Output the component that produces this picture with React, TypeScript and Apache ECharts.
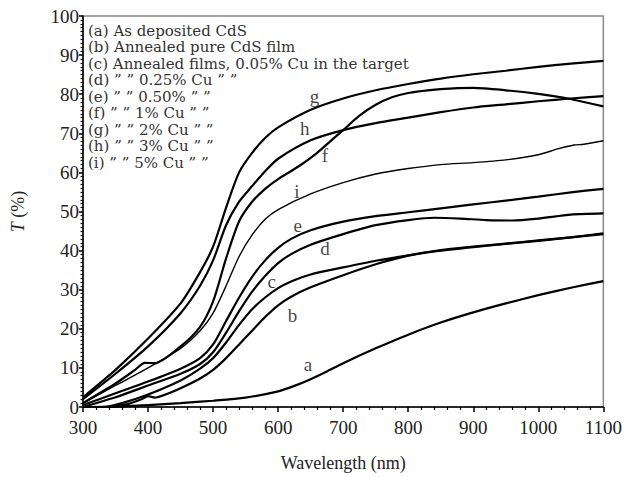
import React, { useEffect, useRef } from "react";
import * as echarts from "echarts";

const curveA = [[300,0],[350,0.1],[400,0.5],[450,1.0],[500,1.6],[550,2.4],[600,4.0],[625,5.4],[650,7.1],[675,9.1],[700,11.2],[750,15],[800,18.5],[850,21.6],[900,24.2],[950,26.5],[1000,28.6],[1050,30.5],[1100,32.2]];
const curveB = [[300,0],[340,0],[370,0.8],[390,2],[400,2.8],[410,2.4],[430,3.4],[450,4.8],[480,7.3],[500,9.5],[520,12.5],[540,16],[560,19.5],[580,23],[600,26],[620,28.2],[650,30.6],[700,33.7],[750,36.5],[800,38.7],[850,40.1],[900,41],[950,41.8],[1000,42.6],[1050,43.4],[1100,44.2]];
const curveC = [[300,0],[330,0],[360,1],[400,3.2],[450,6.8],[480,9.8],[500,12.5],[520,16.5],[540,21],[560,25],[580,28],[600,30.4],[620,32.1],[650,33.9],[700,35.7],[750,37.4],[800,38.8],[850,40],[900,40.9],[950,41.7],[1000,42.5],[1050,43.4],[1100,44.4]];
const curveD = [[300,0],[350,2.5],[400,5.5],[450,8.5],[480,11],[500,14],[520,19],[540,24.5],[560,29.5],[580,33.5],[600,36.8],[620,39.1],[650,41.5],[700,44.2],[750,46.5],[800,47.8],[840,48.4],[880,48.2],[920,47.8],[960,47.7],[1000,48.2],[1050,49.2],[1100,49.5]];
const curveE = [[300,0.5],[350,3.5],[400,6.5],[450,9.8],[480,12.5],[500,16],[520,22],[540,28],[560,33.3],[580,37.5],[600,40.7],[620,43],[650,45.2],[700,47.4],[750,48.8],[800,49.8],[850,50.8],[900,51.8],[950,52.8],[1000,53.8],[1050,54.9],[1100,55.8]];
const curveF = [[300,1],[350,6],[380,9.5],[395,11.3],[410,11.2],[450,15.5],[480,20.5],[500,27],[520,38],[540,47.5],[560,52.5],[580,55.8],[600,58.3],[633,61.7],[660,65],[684,68.5],[700,70.8],[725,74.5],[750,77.3],[775,79.2],[800,80.3],[830,81],[870,81.5],[900,81.6],[950,81],[1000,80.1],[1040,79.1],[1070,78],[1100,76.9]];
const curveG = [[300,2.5],[350,9.5],[400,17.5],[450,26.5],[480,34.5],[500,41],[520,51],[540,60],[560,65],[580,68.8],[600,71.5],[650,76],[700,78.9],[750,81],[800,82.6],[850,84],[900,85.1],[950,86],[1000,87],[1050,87.8],[1100,88.5]];
const curveH = [[300,2],[350,8.5],[400,15.5],[450,24],[480,31],[500,37.5],[520,46.5],[540,52.5],[560,56.5],[580,60.3],[600,63.5],[650,68.2],[700,70.8],[750,72.6],[800,74],[850,75.4],[900,76.6],[950,77.4],[1000,78.2],[1050,78.9],[1100,79.5]];
const curveI = [[300,1],[350,5.5],[400,10],[450,15],[480,19.5],[500,24],[520,31],[540,38.5],[560,44],[580,48],[600,50.5],[650,54.5],[700,57.4],[750,59.6],[800,61],[850,62],[900,62.5],[950,63.2],[1000,64.5],[1030,66],[1055,67],[1070,67.2],[1100,68.1]];

const curveNames = ["a", "b", "c", "d", "e", "f", "g", "h", "i"];
const curveLabelPos = [[646,10.8],[622,23.5],[590,32],[672,40.6],[630,46.5],[672,64.2],[656,79.4],[641,71.3],[629,55.1]];

const noteLines = [
  "(a) As deposited CdS",
  "(b) Annealed pure CdS film",
  "(c) Annealed films, 0.05% Cu in the target",
  "(d) \u201D \u201D 0.25% Cu \u201D \u201D",
  "(e) \u201D \u201D 0.50% \u201D \u201D",
  "(f) \u201D \u201D 1% Cu \u201D \u201D",
  "(g) \u201D \u201D 2% Cu \u201D \u201D",
  "(h) \u201D \u201D 3% Cu \u201D \u201D",
  "(i) \u201D \u201D 5% Cu \u201D \u201D",
];

const xTitle = "Wavelength (nm)";
const FONT_TICK = "Liberation Serif";
const FONT_NOTE = "DejaVu Serif";

export default function App() {
  const ref = useRef<HTMLDivElement>(null);
  useEffect(() => {
    if (!ref.current) return;
    const chart = echarts.init(ref.current, null, { renderer: "svg" });
    const curves = [curveA, curveB, curveC, curveD, curveE, curveF, curveG, curveH, curveI];
    const series: any[] = curves.map((d, k) => ({
      type: "line",
      name: curveNames[k],
      data: d,
      showSymbol: false,
      smooth: 0.25,
      lineStyle: { color: "#000", width: curveNames[k] === "i" ? 1.4 : 2.2 },
      z: 3,
    }));
    series.push({
      type: "scatter",
      symbolSize: 0,
      data: curveLabelPos.map((p, k) => [p[0], p[1], curveNames[k]]),
      label: {
        show: true,
        position: "inside",
        formatter: (p: any) => p.value[2],
        fontFamily: FONT_TICK,
        fontSize: 19,
        color: "#111",
      },
      z: 4,
    });
    chart.setOption({
      animation: false,
      backgroundColor: "#fff",
      grid: { left: 83, right: 21, top: 16, bottom: 67, show: true, borderColor: "#888", borderWidth: 1.5, backgroundColor: "transparent" },
      xAxis: {
        type: "value",
        min: 300,
        max: 1100,
        interval: 100,
        name: xTitle,
        nameLocation: "middle",
        nameGap: 47,
        nameTextStyle: { fontFamily: FONT_TICK, fontSize: 18, color: "#222" },
        axisLine: { show: true, lineStyle: { color: "#000", width: 1.5 } },
        axisTick: { show: true, length: 5, lineStyle: { color: "#000", width: 1.5 } },
        minorTick: { show: true, splitNumber: 5, length: 3, lineStyle: { color: "#000", width: 1.2 } },
        axisLabel: { fontFamily: FONT_TICK, fontSize: 19, color: "#222", margin: 11, formatter: (v: number) => String(v) },
        splitLine: { show: false },
      },
      yAxis: {
        type: "value",
        min: 0,
        max: 100,
        interval: 10,
        name: "{i|T} (%)",
        nameLocation: "middle",
        nameGap: 56,
        nameTextStyle: { fontFamily: FONT_TICK, fontSize: 18, color: "#222", rich: { i: { fontFamily: FONT_TICK, fontStyle: "italic", fontSize: 18, color: "#222" } } },
        axisLine: { show: true, lineStyle: { color: "#000", width: 1.5 } },
        axisTick: { show: true, length: 4, lineStyle: { color: "#000", width: 1.5 } },
        minorTick: { show: true, splitNumber: 10, length: 2.5, lineStyle: { color: "#000", width: 1.2 } },
        axisLabel: { fontFamily: FONT_TICK, fontSize: 19, color: "#222", margin: 4, formatter: (v: number) => String(v) },
        splitLine: { show: false },
      },
      graphic: noteLines.map((t, k) => ({
        type: "text",
        left: 88,
        top: 23 + k * 16.5,
        style: { text: t, fontFamily: FONT_NOTE, fontSize: 15, fill: "#333" },
        z: 5,
      })),
      series,
    });
    return () => chart.dispose();
  }, []);
  return <div ref={ref} style={{ width: 625, height: 477, position: "absolute", left: 0, top: 0 }} />;
}
